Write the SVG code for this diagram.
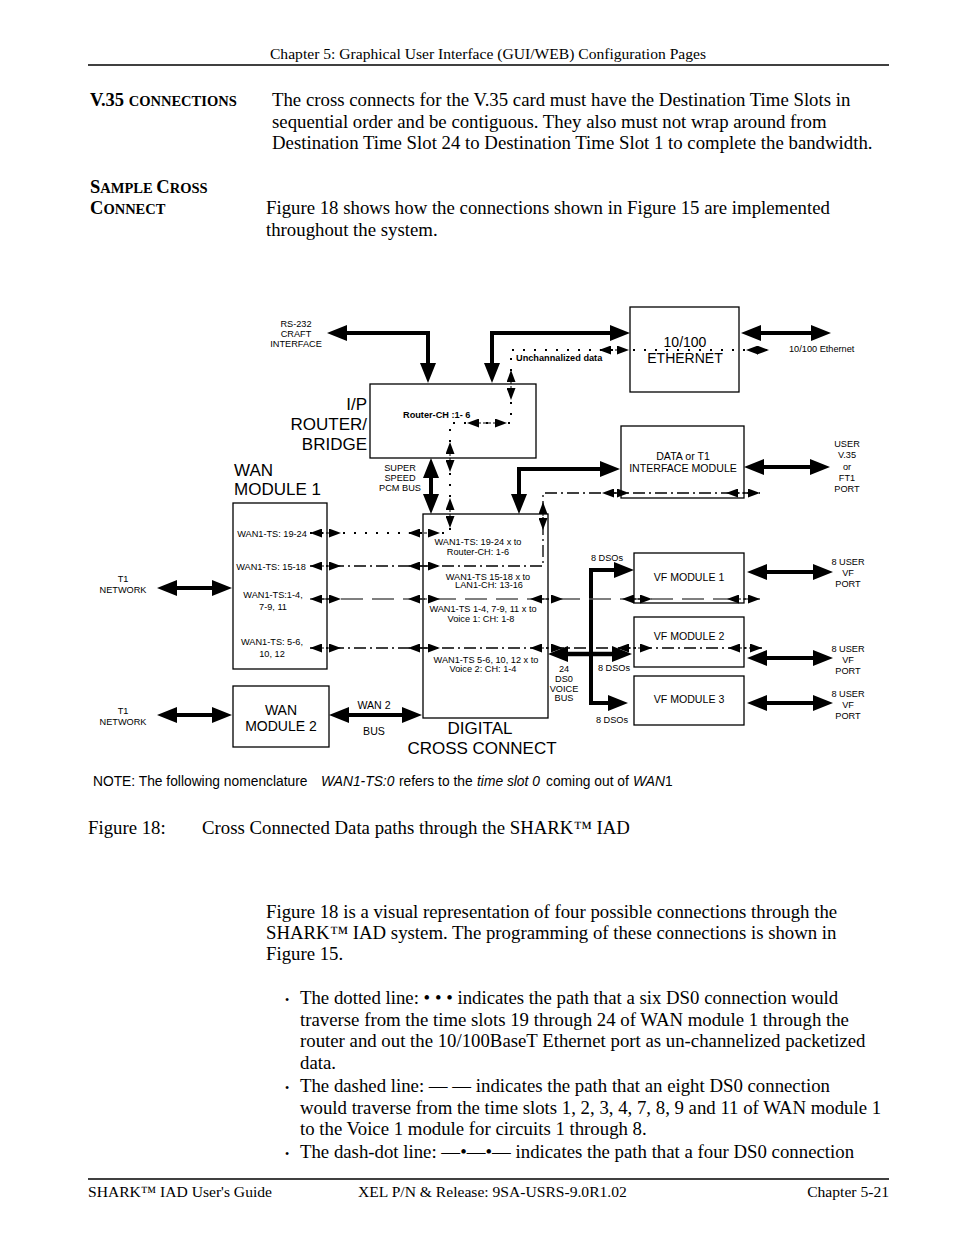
<svg xmlns="http://www.w3.org/2000/svg" width="954" height="1235" viewBox="0 0 954 1235">
<style>
.s{font-family:"Liberation Sans",Arial,sans-serif;fill:#000}
.t9{font-size:9.2px}
.b9{font-size:9.2px;font-weight:bold}
.t11{font-size:10.6px}
.t14{font-size:14px}
.t17{font-size:17px}
.m{text-anchor:middle}
.r{text-anchor:end}
.tm{font-family:"Liberation Serif","Times New Roman",serif;fill:#000;font-size:18.8px}
.hd{font-size:15.6px}
.box{fill:none;stroke:#000;stroke-width:1.3}
.thick{fill:none;stroke:#000;stroke-width:4}
.sa{fill:none;stroke:#000;stroke-width:1;stroke-dasharray:3 2}
.dot{fill:none;stroke:#000;stroke-width:2;stroke-dasharray:2 9}
.dd{fill:none;stroke:#000;stroke-width:1.3;stroke-dasharray:12 4 2 4}
.dash{fill:none;stroke:#555;stroke-width:1.6;stroke-dasharray:22 9}
</style>
<defs>
<marker id="big" markerUnits="userSpaceOnUse" markerWidth="20" markerHeight="16" refX="2" refY="8" orient="auto-start-reverse" viewBox="0 0 20 16"><path d="M0,0 L20,8 L0,16 z" fill="#000"/></marker>
<marker id="sm" markerUnits="userSpaceOnUse" markerWidth="12" markerHeight="9" refX="1" refY="4.5" orient="auto-start-reverse" viewBox="0 0 12 9"><path d="M0,0 L12,4.5 L0,9 z" fill="#000"/></marker>
</defs>

<g id="page-header">
<text class="tm hd" x="488" y="59" text-anchor="middle">Chapter 5: Graphical User Interface (GUI/WEB) Configuration Pages</text>
<line x1="88" y1="65" x2="889" y2="65" stroke="#000" stroke-width="1.3"/>
</g>
<g id="v35-section">
<text class="tm" x="90" y="106" font-weight="bold"><tspan style="font-size:18.5px">V.35 </tspan><tspan style="font-size:14.5px">CONNECTIONS</tspan></text>
<text class="tm" x="272" y="106">The cross connects for the V.35 card must have the Destination Time Slots in</text>
<text class="tm" x="272" y="128">sequential order and be contiguous.  They also must not wrap around from</text>
<text class="tm" x="272" y="149">Destination Time Slot 24 to Destination Time Slot 1 to complete the bandwidth.</text>
</g>
<g id="sample-section">
<text class="tm" x="90" y="193" font-weight="bold"><tspan style="font-size:18.5px">S</tspan><tspan style="font-size:14.5px">AMPLE </tspan><tspan style="font-size:18.5px">C</tspan><tspan style="font-size:14.5px">ROSS</tspan></text>
<text class="tm" x="90" y="214" font-weight="bold"><tspan style="font-size:18.5px">C</tspan><tspan style="font-size:14.5px">ONNECT</tspan></text>
<text class="tm" x="266" y="214">Figure 18 shows how the connections shown in Figure 15 are implemented</text>
<text class="tm" x="266" y="236">throughout the system.</text>
</g>

<g id="connectors">
<path class="thick" d="M345,333 H428 V365" marker-start="url(#big)" marker-end="url(#big)"/>
<path class="thick" d="M492,365 V333 H612" marker-start="url(#big)" marker-end="url(#big)"/>
<path class="thick" d="M759,333 H813" marker-start="url(#big)" marker-end="url(#big)"/>
<path class="thick" d="M519,496 V469 H602" marker-start="url(#big)" marker-end="url(#big)"/>
<path class="thick" d="M762,467 H812" marker-start="url(#big)" marker-end="url(#big)"/>
<path class="thick" d="M431,476 V496" marker-start="url(#big)" marker-end="url(#big)"/>
<path class="thick" d="M175,588 H214" marker-start="url(#big)" marker-end="url(#big)"/>
<path class="thick" d="M175,715 H214" marker-start="url(#big)" marker-end="url(#big)"/>
<path class="thick" d="M347,715 H404" marker-start="url(#big)" marker-end="url(#big)"/>
<path class="thick" d="M566,654 H614" marker-start="url(#big)" marker-end="url(#big)" style="stroke-width:4.5"/>
<path class="thick" d="M591,568 V705"/>
<path class="thick" d="M589,570 H616" marker-end="url(#big)"/>
<path class="thick" d="M589,703 H610" marker-end="url(#big)"/>
<path class="thick" d="M765,572 H815" marker-start="url(#big)" marker-end="url(#big)"/>
<path class="thick" d="M765,658 H815" marker-start="url(#big)" marker-end="url(#big)"/>
<path class="thick" d="M765,703 H815" marker-start="url(#big)" marker-end="url(#big)"/>

<path class="dot" d="M310,533 H450 V423 H511 V350 H770"/>
<path class="dd" d="M310,566 H543 V493 H760"/>
<path class="dash" d="M310,599 H760"/>
<path class="dd" d="M310,648 H762"/>

<path class="sa" d="M321,533 H330" marker-start="url(#sm)" marker-end="url(#sm)"/>
<path class="sa" d="M419,533 H429" marker-start="url(#sm)" marker-end="url(#sm)"/>
<path class="sa" d="M450,509 V517" marker-start="url(#sm)" marker-end="url(#sm)"/>
<path class="sa" d="M450,453 V461" marker-start="url(#sm)" marker-end="url(#sm)"/>
<path class="sa" d="M478,423 H496" marker-start="url(#sm)" marker-end="url(#sm)"/>
<path class="sa" d="M511,381 V389" marker-start="url(#sm)" marker-end="url(#sm)"/>
<path class="sa" d="M610,350 H618" marker-start="url(#sm)" marker-end="url(#sm)"/>
<path class="sa" d="M757,350 H758" marker-start="url(#sm)" marker-end="url(#sm)"/>

<path class="sa" d="M321,566 H330" marker-start="url(#sm)" marker-end="url(#sm)"/>
<path class="sa" d="M419,566 H429" marker-start="url(#sm)" marker-end="url(#sm)"/>
<path class="sa" d="M543,513 V519" marker-start="url(#sm)" marker-end="url(#sm)"/>
<path class="sa" d="M613,493 H618" marker-start="url(#sm)" marker-end="url(#sm)"/>
<path class="sa" d="M737,493 H749" marker-start="url(#sm)" marker-end="url(#sm)"/>

<path class="sa" d="M321,599 H330" marker-start="url(#sm)" marker-end="url(#sm)"/>
<path class="sa" d="M419,599 H429" marker-start="url(#sm)" marker-end="url(#sm)"/>
<path class="sa" d="M541,599 H552" marker-start="url(#sm)" marker-end="url(#sm)"/>
<path class="sa" d="M633,599 H641" marker-start="url(#sm)" marker-end="url(#sm)"/>
<path class="sa" d="M738,599 H749" marker-start="url(#sm)" marker-end="url(#sm)"/>

<path class="sa" d="M321,648 H330" marker-start="url(#sm)" marker-end="url(#sm)"/>
<path class="sa" d="M419,648 H429" marker-start="url(#sm)" marker-end="url(#sm)"/>
<path class="sa" d="M541,648 H552" marker-start="url(#sm)" marker-end="url(#sm)"/>
<path class="sa" d="M628,648 H641" marker-start="url(#sm)" marker-end="url(#sm)"/>
<path class="sa" d="M739,648 H751" marker-start="url(#sm)" marker-end="url(#sm)"/>
</g>

<g id="router">
<rect class="box" x="370" y="384" width="166" height="74"/>
<text class="s b9" x="403" y="418">Router-CH :1- 6</text>
<text class="s t17 r" x="367" y="410">I/P</text>
<text class="s t17 r" x="367" y="430">ROUTER/</text>
<text class="s t17 r" x="367" y="450">BRIDGE</text>
</g>
<g id="ethernet">
<rect class="box" x="630" y="307" width="109" height="85"/>
<text class="s t14 m" x="685" y="347">10/100</text>
<text class="s t14 m" x="685" y="363">ETHERNET</text>
</g>
<g id="interface-module">
<rect class="box" x="621" y="426" width="123" height="72"/>
<text class="s t11 m" x="683" y="460">DATA or T1</text>
<text class="s t11 m" x="683" y="472">INTERFACE MODULE</text>
</g>
<g id="wan-module-1">
<rect class="box" x="233" y="503" width="94" height="166"/>
<text class="s t17" x="234" y="476">WAN</text>
<text class="s t17" x="234" y="495">MODULE 1</text>
<text class="s t9 m" x="272" y="537">WAN1-TS: 19-24</text>
<text class="s t9 m" x="271" y="570">WAN1-TS: 15-18</text>
<text class="s t9 m" x="273" y="598">WAN1-TS:1-4,</text>
<text class="s t9 m" x="273" y="610">7-9, 11</text>
<text class="s t9 m" x="272" y="645">WAN1-TS: 5-6,</text>
<text class="s t9 m" x="272" y="657">10, 12</text>
</g>
<g id="wan-module-2">
<rect class="box" x="233" y="686" width="96" height="61"/>
<text class="s t14 m" x="281" y="715">WAN</text>
<text class="s t14 m" x="281" y="731">MODULE 2</text>
</g>
<g id="digital-cross-connect">
<rect class="box" x="423" y="514" width="125" height="204"/>
<text class="s t9 m" x="478" y="545">WAN1-TS: 19-24 x to</text>
<text class="s t9 m" x="478" y="555">Router-CH: 1-6</text>
<text class="s t9 m" x="488" y="580">WAN1-TS 15-18 x to</text>
<text class="s t9 m" x="489" y="588">LAN1-CH: 13-16</text>
<text class="s t9 m" x="483" y="612">WAN1-TS 1-4, 7-9, 11 x to</text>
<text class="s t9 m" x="481" y="622">Voice 1: CH: 1-8</text>
<text class="s t9 m" x="486" y="663">WAN1-TS 5-6, 10, 12 x to</text>
<text class="s t9 m" x="483" y="672">Voice 2: CH: 1-4</text>
<text class="s t17 m" x="480" y="734">DIGITAL</text>
<text class="s t17 m" x="482" y="754">CROSS CONNECT</text>
</g>
<g id="vf-module-1">
<rect class="box" x="634" y="553" width="110" height="50"/>
<text class="s t11 m" x="689" y="581">VF MODULE 1</text>
</g>
<g id="vf-module-2">
<rect class="box" x="634" y="617" width="110" height="50"/>
<text class="s t11 m" x="689" y="640">VF MODULE 2</text>
</g>
<g id="vf-module-3">
<rect class="box" x="634" y="676" width="110" height="49"/>
<text class="s t11 m" x="689" y="703">VF MODULE 3</text>
</g>

<g id="labels">
<text class="s t9 m" x="296" y="327">RS-232</text>
<text class="s t9 m" x="296" y="337">CRAFT</text>
<text class="s t9 m" x="296" y="347">INTERFACE</text>
<text class="s b9" x="516" y="361">Unchannalized data</text>
<text class="s t9" x="789" y="352">10/100 Ethernet</text>
<text class="s t9 m" x="400" y="471">SUPER</text>
<text class="s t9 m" x="400" y="481">SPEED</text>
<text class="s t9 m" x="400" y="491">PCM BUS</text>
<text class="s t9 m" x="847" y="447">USER</text>
<text class="s t9 m" x="847" y="458">V.35</text>
<text class="s t9 m" x="847" y="470">or</text>
<text class="s t9 m" x="847" y="481">FT1</text>
<text class="s t9 m" x="847" y="492">PORT</text>
<text class="s t9 m" x="123" y="582">T1</text>
<text class="s t9 m" x="123" y="593">NETWORK</text>
<text class="s t9 m" x="123" y="714">T1</text>
<text class="s t9 m" x="123" y="725">NETWORK</text>
<text class="s t11 m" x="374" y="709">WAN 2</text>
<text class="s t11 m" x="374" y="735">BUS</text>
<text class="s t9 m" x="607" y="561">8 DSOs</text>
<text class="s t9 m" x="614" y="671">8 DSOs</text>
<text class="s t9 m" x="612" y="723">8 DSOs</text>
<text class="s t9 m" x="564" y="672">24</text>
<text class="s t9 m" x="564" y="682">DS0</text>
<text class="s t9 m" x="564" y="692">VOICE</text>
<text class="s t9 m" x="564" y="701">BUS</text>
<text class="s t9 m" x="848" y="565">8 USER</text>
<text class="s t9 m" x="848" y="576">VF</text>
<text class="s t9 m" x="848" y="587">PORT</text>
<text class="s t9 m" x="848" y="652">8 USER</text>
<text class="s t9 m" x="848" y="663">VF</text>
<text class="s t9 m" x="848" y="674">PORT</text>
<text class="s t9 m" x="848" y="697">8 USER</text>
<text class="s t9 m" x="848" y="708">VF</text>
<text class="s t9 m" x="848" y="719">PORT</text>
<text class="s" x="93" y="786" style="font-size:13.8px">NOTE:  The following nomenclature<tspan x="321" font-style="italic">WAN1-TS:0</tspan><tspan x="399">refers to the</tspan><tspan x="477" font-style="italic">time slot 0</tspan><tspan x="546">coming out of</tspan><tspan x="633" font-style="italic">WAN</tspan><tspan>1</tspan></text>
</g>

<g id="caption-and-body">
<text class="tm" x="88" y="834">Figure 18:</text>
<text class="tm" x="202" y="834">Cross Connected Data paths through the SHARK™ IAD</text>
<text class="tm" x="266" y="918">Figure 18 is a visual representation of four possible connections through the</text>
<text class="tm" x="266" y="939">SHARK™ IAD system.  The programming of these connections is shown in</text>
<text class="tm" x="266" y="960">Figure 15.</text>
<text class="tm" x="285" y="1004" style="font-size:12px">•</text>
<text class="tm" x="300" y="1004">The dotted line: • • • indicates the path that a six DS0 connection would</text>
<text class="tm" x="300" y="1026">traverse from the time slots 19 through 24 of WAN module 1 through the</text>
<text class="tm" x="300" y="1047">router and out the 10/100BaseT Ethernet port as un-channelized packetized</text>
<text class="tm" x="300" y="1069">data.</text>
<text class="tm" x="285" y="1092" style="font-size:12px">•</text>
<text class="tm" x="300" y="1092">The dashed line: — — indicates the path that an eight DS0 connection</text>
<text class="tm" x="300" y="1114">would traverse from the time slots 1, 2, 3, 4, 7, 8, 9 and 11 of WAN module 1</text>
<text class="tm" x="300" y="1135">to the Voice 1 module for circuits 1 through 8.</text>
<text class="tm" x="285" y="1158" style="font-size:12px">•</text>
<text class="tm" x="300" y="1158">The dash-dot line: —•—•— indicates the path that a four DS0 connection</text>
</g>

<g id="page-footer">
<line x1="88" y1="1179" x2="889" y2="1179" stroke="#000" stroke-width="1.3"/>
<text class="tm hd" x="88" y="1197">SHARK™ IAD User's Guide</text>
<text class="tm hd" x="358" y="1197">XEL P/N &amp; Release: 9SA-USRS-9.0R1.02</text>
<text class="tm hd" x="889" y="1197" text-anchor="end">Chapter 5-21</text>
</g>
</svg>
